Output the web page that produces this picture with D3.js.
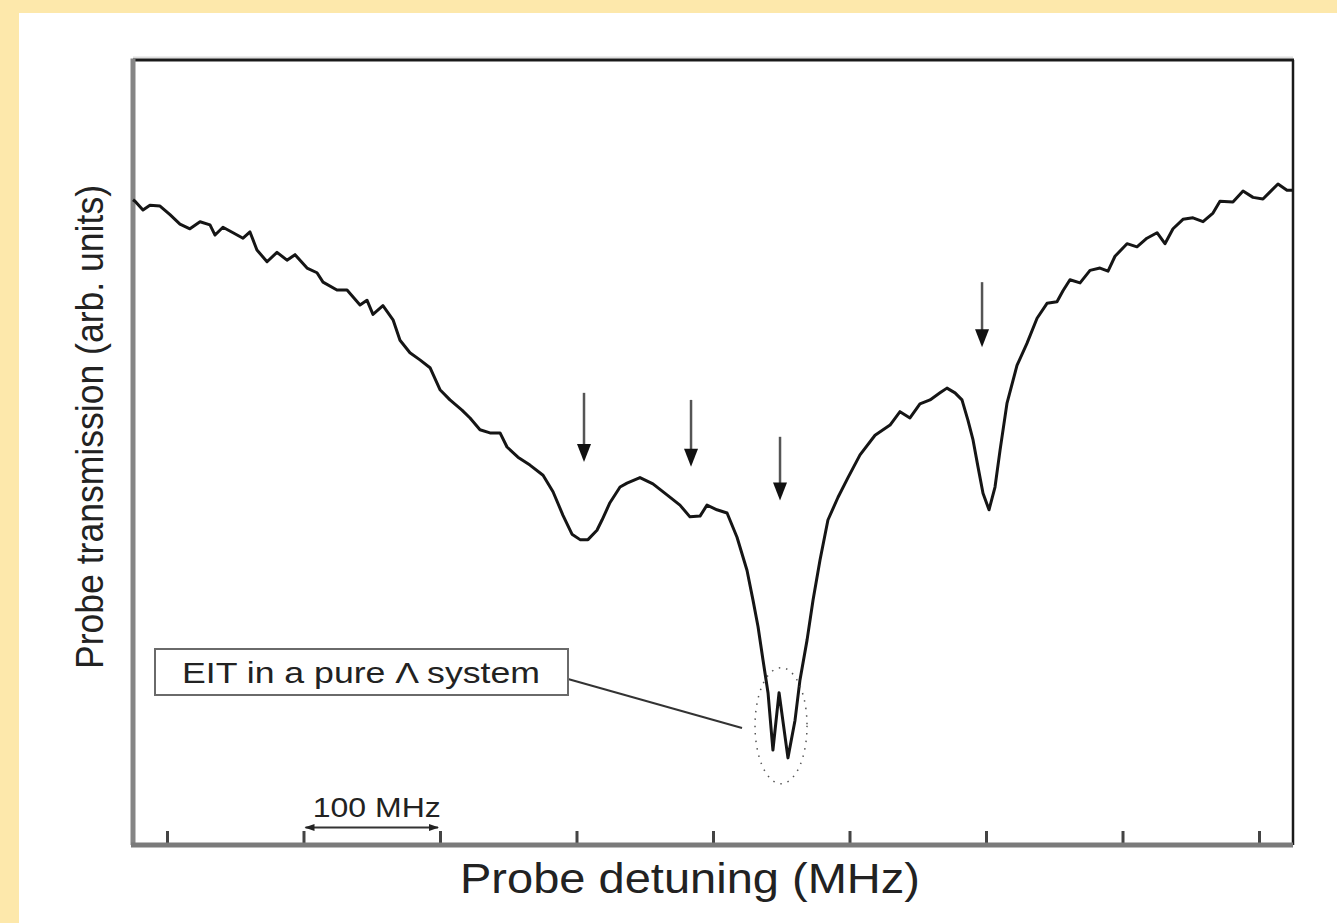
<!DOCTYPE html>
<html>
<head>
<meta charset="utf-8">
<script src="https://cdn.jsdelivr.net/npm/d3@7"></script>
<style>
  html, body { margin: 0; padding: 0; background: #fde8ab; }
  svg { display: block; }
  text { font-family: "Liberation Sans", Arial, sans-serif; fill: #222; }
</style>
</head>
<body>
<script>
// size of the page and the plot frame
var w = 1337;
var h = 923;
var plotLeft = 133, plotRight = 1293, plotTop = 60, plotBottom = 845;

// probe detuning (MHz) and transmission (arb. units, 0-100)
var detuning = [-24.9, -23.4, -17.6, -12.5, -5.1, 2.2, 9.5, 16.8, 24.2, 31.5,
  35.2, 41.0, 48.4, 55.7, 60.8, 65.9, 73.3, 80.6, 87.9, 93.8,
  102.6, 109.9, 114.3, 124.5, 131.9, 141.4, 146.5, 150.9, 158.2, 165.6,
  170.7, 178.0, 185.3, 192.7, 200.0, 207.3, 216.1, 222.0, 229.3, 236.6,
  244.0, 249.1, 257.1, 265.9, 275.5, 282.8, 290.1, 296.7, 302.6, 308.4,
  315.0, 318.7, 324.5, 331.9, 337.0, 346.5, 356.0, 366.3, 375.8, 383.1,
  390.5, 395.6, 402.9, 410.3, 417.6, 424.9, 429.3, 433.0, 436.6, 440.3,
  443.9, 448.4, 454.9, 460.1, 463.7, 468.9, 473.3, 478.4, 484.2, 491.6,
  498.9, 507.7, 518.7, 529.7, 537.0, 544.3, 551.6, 559.0, 566.3, 571.4,
  577.3, 582.4, 586.8, 590.5, 594.1, 597.8, 602.2, 606.6, 610.3, 615.4,
  622.7, 630.0, 637.4, 644.7, 652.0, 656.4, 661.5, 668.9, 676.2, 683.5,
  689.4, 694.5, 703.3, 710.6, 717.9, 725.3, 731.1, 737.0, 744.3, 751.6,
  759.0, 766.3, 771.4, 780.9, 788.3, 795.6, 802.9, 808.1, 813.9, 820.5, 824.9];

var transmission = [82.2, 82.0, 80.9, 81.5, 81.4, 80.3, 79.1, 78.5, 79.4, 79.0,
  77.7, 78.7, 78.0, 77.3, 78.1, 75.8, 74.3, 75.5, 74.5, 75.2,
  73.5, 72.9, 71.7, 70.7, 70.7, 68.8, 69.4, 67.6, 68.7, 66.9,
  64.3, 62.7, 61.8, 60.8, 58.0, 56.7, 55.4, 54.4, 52.9, 52.5,
  52.5, 50.7, 49.4, 48.4, 47.1, 45.0, 42.0, 39.6, 38.9, 38.9,
  40.1, 41.4, 43.6, 45.6, 46.1, 46.8, 46.0, 44.6, 43.3, 41.8,
  41.9, 43.3, 42.7, 42.3, 39.2, 35.0, 31.2, 27.8, 23.6, 19.4,
  12.1, 19.4, 11.1, 15.9, 21.0, 26.1, 31.2, 36.3, 41.4, 44.3,
  46.8, 49.7, 52.2, 53.5, 55.2, 54.4, 56.2, 56.7, 57.6, 58.2,
  57.6, 56.7, 54.1, 51.6, 48.2, 44.8, 42.7, 45.6, 50.3, 56.3,
  61.1, 63.9, 67.1, 69.0, 69.2, 70.6, 72.0, 71.6, 73.2, 73.5,
  73.1, 75.0, 76.6, 76.2, 77.3, 78.0, 76.6, 78.5, 79.7, 79.9,
  79.4, 80.5, 82.0, 81.9, 83.3, 82.5, 82.3, 83.2, 84.2, 83.4, 83.4];

// tick positions (MHz), no labels on the original
var tickValues = [0, 100, 200, 300, 400, 500, 600, 700, 800];

// arrows marking the resonances: position and start / end height
var arrowX = [305.5, 383.9, 449.1, 597.1];
var arrowTop = [57.6, 56.7, 52.0, 71.7];
var arrowEnd = [48.8, 48.2, 43.9, 63.4];

// scale bar and annotation
var scaleBar = [100, 200];
var scaleLabel = "100 MHz";
var eitPoint = [449.1, 15.2];
var eitLabel = "EIT in a pure \u039B system";

var svg = d3.select("body").append("svg")
  .attr("width", w)
  .attr("height", h);

// white page with the yellow edge top and left
svg.append("rect")
  .attr("x", 19).attr("y", 13)
  .attr("width", w - 19).attr("height", h - 13)
  .attr("fill", "white");

var x = d3.scaleLinear().domain([-24.9, 824.9]).range([plotLeft, plotRight]);
var y = d3.scaleLinear().domain([0, 100]).range([plotBottom, plotTop]);

// frame: top and right dark, left and bottom grey
svg.append("line").attr("x1", plotLeft).attr("x2", plotRight).attr("y1", plotTop - 2.5).attr("y2", plotTop - 2.5)
  .attr("stroke", "#ddd").attr("stroke-width", 2);
svg.append("line").attr("x1", plotLeft).attr("x2", plotRight + 1).attr("y1", plotTop).attr("y2", plotTop)
  .attr("stroke", "#1a1a1a").attr("stroke-width", 3);
svg.append("line").attr("x1", plotRight).attr("x2", plotRight).attr("y1", plotTop).attr("y2", plotBottom)
  .attr("stroke", "#1a1a1a").attr("stroke-width", 2.5);
svg.append("line").attr("x1", plotLeft).attr("x2", plotLeft).attr("y1", plotTop - 1.5).attr("y2", plotBottom)
  .attr("stroke", "#858585").attr("stroke-width", 5);

// bottom axis with inward ticks
var xAxis = svg.append("g")
  .attr("transform", "translate(0," + plotBottom + ")")
  .call(d3.axisBottom(x).tickValues(tickValues).tickSize(-14).tickFormat(""));
xAxis.select(".domain").remove();
xAxis.selectAll(".tick line").attr("stroke", "#444").attr("stroke-width", 3);
svg.append("line").attr("x1", plotLeft - 2).attr("x2", plotRight).attr("y1", plotBottom).attr("y2", plotBottom)
  .attr("stroke", "#7a7a7a").attr("stroke-width", 5);

// the trace
var line = d3.line()
  .x(function(d, i) { return x(detuning[i]); })
  .y(function(d) { return y(d); });

svg.append("path")
  .datum(transmission)
  .attr("fill", "none")
  .attr("stroke", "#151515")
  .attr("stroke-width", 3)
  .attr("stroke-linejoin", "round")
  .attr("d", line);

// arrows
arrowX.forEach(function(v, i) {
  var ax = x(v), y0 = y(arrowTop[i]), y1 = y(arrowEnd[i]);
  svg.append("line")
    .attr("x1", ax).attr("x2", ax).attr("y1", y0).attr("y2", y1 - 14)
    .attr("stroke", "#555").attr("stroke-width", 2.5);
  svg.append("path")
    .attr("d", "M" + (ax - 7) + "," + (y1 - 18) + "L" + (ax + 7) + "," + (y1 - 18) + "L" + ax + "," + y1 + "Z")
    .attr("fill", "#111");
});

// 100 MHz scale bar
var sbY = 827.5;
svg.append("line")
  .attr("x1", x(scaleBar[0]) + 2).attr("x2", x(scaleBar[1]) - 2)
  .attr("y1", sbY).attr("y2", sbY)
  .attr("stroke", "#333").attr("stroke-width", 2);
[[x(scaleBar[0]) + 1, 1], [x(scaleBar[1]) - 1, -1]].forEach(function(a) {
  svg.append("path")
    .attr("d", "M" + a[0] + "," + sbY + "L" + (a[0] + a[1] * 10) + "," + (sbY - 3.5) + "L" + (a[0] + a[1] * 10) + "," + (sbY + 3.5) + "Z")
    .attr("fill", "#222");
});
svg.append("text")
  .attr("x", (x(scaleBar[0]) + x(scaleBar[1])) / 2 + 5)
  .attr("y", 817)
  .attr("text-anchor", "middle")
  .attr("textLength", 128)
  .attr("lengthAdjust", "spacingAndGlyphs")
  .style("font-size", "28px")
  .text(scaleLabel);

// EIT annotation: dotted ellipse, leader line and boxed label
svg.append("ellipse")
  .attr("cx", x(eitPoint[0]) + 1).attr("cy", y(eitPoint[1]))
  .attr("rx", 26).attr("ry", 58)
  .attr("fill", "none")
  .attr("stroke", "#555").attr("stroke-width", 1.5)
  .attr("stroke-dasharray", "1.5,6");

svg.append("line")
  .attr("x1", 568).attr("y1", 679)
  .attr("x2", x(eitPoint[0]) - 38).attr("y2", 728)
  .attr("stroke", "#333").attr("stroke-width", 2);

svg.append("rect")
  .attr("x", 155).attr("y", 649)
  .attr("width", 413).attr("height", 46)
  .attr("fill", "white")
  .attr("stroke", "#6a6a6a").attr("stroke-width", 2);
svg.append("text")
  .attr("x", 182).attr("y", 683)
  .attr("textLength", 358)
  .attr("lengthAdjust", "spacingAndGlyphs")
  .style("font-size", "30px")
  .text(eitLabel);

// axis titles
svg.append("text")
  .attr("x", 690).attr("y", 893)
  .attr("text-anchor", "middle")
  .attr("textLength", 460)
  .attr("lengthAdjust", "spacingAndGlyphs")
  .style("font-size", "42px")
  .text("Probe detuning (MHz)");

svg.append("text")
  .attr("transform", "translate(103,427) rotate(-90)")
  .attr("text-anchor", "middle")
  .attr("textLength", 484)
  .attr("lengthAdjust", "spacingAndGlyphs")
  .style("font-size", "38px")
  .text("Probe transmission (arb. units)");
</script>
</body>
</html>
